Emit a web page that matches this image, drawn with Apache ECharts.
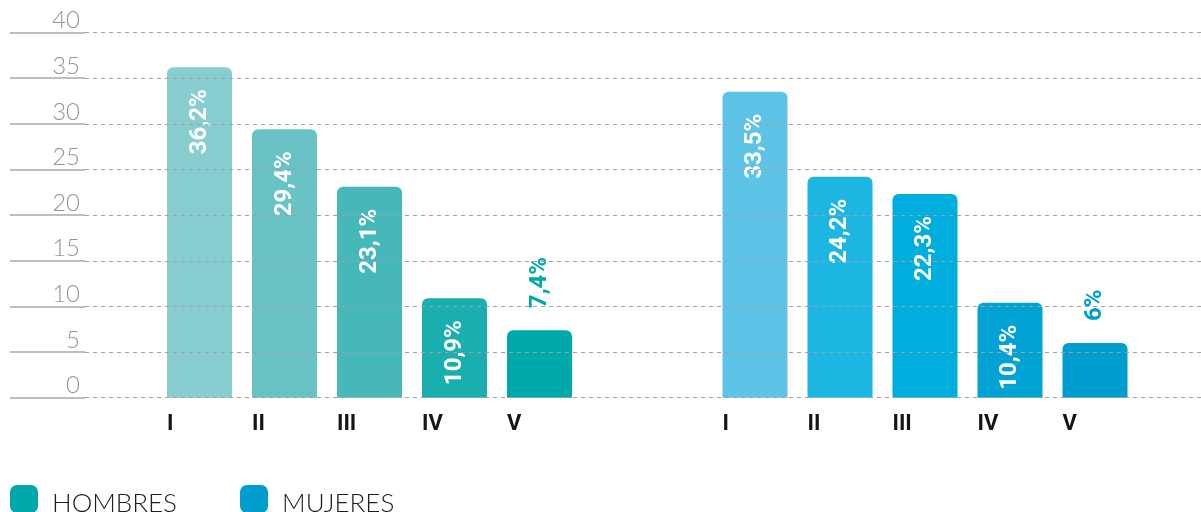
<!DOCTYPE html>
<html>
<head>
<meta charset="utf-8">
<script src="https://cdn.jsdelivr.net/npm/echarts@6/dist/echarts.min.js"></script>
<style>
    html, body { margin: 0; padding: 0; background: #ffffff; }
    #chart { width: 1201px; height: 512px; }
</style>
</head>
<body>
<div id="chart"></div>
<script>
// datos
const categories = ['I', 'II', 'III', 'IV', 'V'];
const hombres = [36.2, 29.4, 23.1, 10.9, 7.4];
const mujeres = [33.5, 24.2, 22.3, 10.4, 6];
const seriesNames = ['HOMBRES', 'MUJERES'];
const yMin = 0;
const yMax = 40;
const yStep = 5;

// colores
const hombresColors = ['#88ced1', '#69c3c5', '#46b8ba', '#1aaeaf', '#00a9a9'];
const mujeresColors = ['#5dc4e7', '#1db6e2', '#00aedd', '#00a3d4', '#009dcf'];
const legendColors = ['#00a9a9', '#009dcf'];

const chart = echarts.init(document.getElementById('chart'));

const TOP = 32.5;
const BOTTOM = 114.3;

function fmt(v) {
    return String(v).replace('.', ',') + '%';
}

// barras: etiqueta dentro (blanca) o encima (color de la barra) si es pequeña
function buildData(values, colors) {
    return values.map((v, i) => {
        const outside = v < 10;
        return {
            value: v,
            itemStyle: { color: colors[i] },
            label: outside ? {
                position: 'top',
                align: 'left',
                color: colors[i]
            } : {
                position: 'insideTop',
                align: 'right',
                color: '#ffffff'
            }
        };
    });
}

const valueAxis = (gridIndex, extra) => Object.assign({
    type: 'value',
    gridIndex: gridIndex,
    min: yMin,
    max: yMax,
    interval: yStep,
    axisLine: { show: false },
    axisTick: { show: false },
    axisLabel: { show: false },
    splitLine: { show: false }
}, extra);

const catAxis = (gridIndex) => ({
    type: 'category',
    gridIndex: gridIndex,
    data: categories,
    axisLine: { show: false },
    axisTick: { show: false },
    axisLabel: {
        margin: 16,
        formatter: v => '{a|' + v + '}',
        rich: {
            a: {
                width: 65,
                align: 'left',
                fontFamily: 'Roboto',
                fontWeight: 'bold',
                fontSize: 22,
                color: '#151515'
            }
        }
    }
});

const barLabel = {
    show: true,
    rotate: 90,
    distance: 22,
    verticalAlign: 'middle',
    fontFamily: 'Roboto',
    fontWeight: 'bold',
    fontSize: 24,
    formatter: p => fmt(p.value)
};

const option = {
    animation: false,
    grid: [
        // tramo sólido con las etiquetas del eje
        { left: 10, width: 75, top: TOP, bottom: BOTTOM },
        // líneas discontinuas encima de las barras
        { left: 85, right: 0, top: TOP, bottom: BOTTOM },
        // hombres
        { left: 157, width: 425, top: TOP, bottom: BOTTOM },
        // mujeres
        { left: 712.5, width: 425, top: TOP, bottom: BOTTOM }
    ],
    xAxis: [
        { type: 'value', gridIndex: 0, show: false, min: 0, max: 1 },
        { type: 'value', gridIndex: 1, show: false, min: 0, max: 1 },
        catAxis(2),
        catAxis(3)
    ],
    yAxis: [
        valueAxis(0, {
            axisLabel: {
                show: true,
                inside: true,
                align: 'right',
                verticalAlign: 'bottom',
                margin: 70,
                fontFamily: 'Lato',
                fontWeight: 300,
                fontSize: 24,
                color: '#959595'
            },
            splitLine: { show: true, lineStyle: { color: '#a8a8a8', width: 1.5, type: 'solid' } }
        }),
        valueAxis(1, {
            z: 10,
            splitLine: { show: true, lineStyle: { color: '#a0a0a0', width: 1, type: [4, 4] } }
        }),
        valueAxis(2),
        valueAxis(3)
    ],
    legend: {
        left: 5,
        top: 480,
        icon: 'roundRect',
        itemWidth: 28,
        itemHeight: 28,
        itemGap: 63,
        selectedMode: false,
        data: seriesNames,
        formatter: name => '{t|' + name + '}',
        textStyle: {
            rich: {
                t: {
                    fontFamily: 'Lato',
                    fontWeight: 300,
                    fontSize: 26,
                    color: '#1e1e1e',
                    padding: [10, 0, 0, 9]
                }
            }
        }
    },
    series: [
        {
            name: seriesNames[0],
            type: 'bar',
            xAxisIndex: 2,
            yAxisIndex: 2,
            barWidth: 65,
            itemStyle: { color: legendColors[0], borderRadius: [6, 6, 0, 0] },
            label: barLabel,
            data: buildData(hombres, hombresColors)
        },
        {
            name: seriesNames[1],
            type: 'bar',
            xAxisIndex: 3,
            yAxisIndex: 3,
            barWidth: 65,
            itemStyle: { color: legendColors[1], borderRadius: [6, 6, 0, 0] },
            label: barLabel,
            data: buildData(mujeres, mujeresColors)
        }
    ]
};

chart.setOption(option);
</script>
</body>
</html>
